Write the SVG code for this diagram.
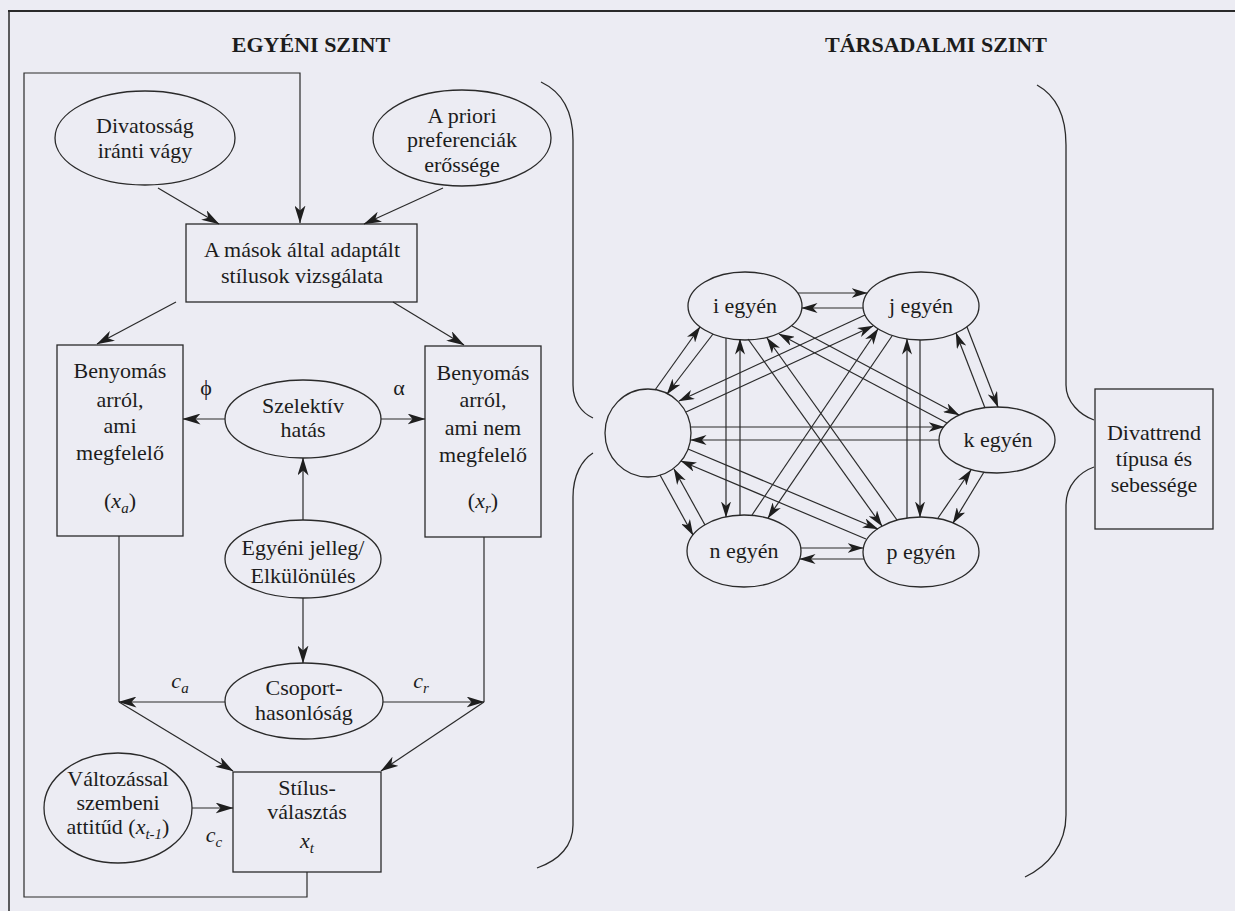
<svg xmlns="http://www.w3.org/2000/svg" width="1235" height="911" viewBox="0 0 1235 911">
<defs>
<style>
.bg{fill:#ececf3}
.sh{fill:none;stroke:#2a2a2a;stroke-width:1.3}
.ln{fill:none;stroke:#2a2a2a;stroke-width:1.2}
.big{marker-end:url(#ah)}
.sm{marker-end:url(#as)}
text{font-family:"Liberation Serif","Times New Roman",serif;font-size:22px;fill:#1c1c1c;text-anchor:middle}
.ti{font-weight:bold}
.it{font-style:italic}
</style>
<marker id="ah" viewBox="0 0 18 11" refX="17.5" refY="5.5" markerWidth="18" markerHeight="11" orient="auto" markerUnits="userSpaceOnUse"><path d="M0,0 L18,5.5 L0,11 L5,5.5 z" fill="#1e1e1e"/></marker>
<marker id="as" viewBox="0 0 16 10" refX="15.5" refY="5" markerWidth="16" markerHeight="10" orient="auto" markerUnits="userSpaceOnUse"><path d="M0,0 L16,5 L0,10 L4.5,5 z" fill="#1e1e1e"/></marker>
</defs>
<rect class="bg" x="0" y="0" width="1235" height="911"/>
<g id="frame">
<line x1="8" y1="11" x2="1235" y2="11" stroke="#2a2a2a" stroke-width="2"/>
<line x1="9" y1="11" x2="9" y2="911" stroke="#2a2a2a" stroke-width="1.5"/>
</g>
<g id="titles">
<text class="ti" x="311" y="52">EGYÉNI SZINT</text>
<text class="ti" x="936" y="52">TÁRSADALMI SZINT</text>
</g>
<g id="braces">
<path class="sh" d="M541,82 C562,92 573,112 573,140 L573,385 C573,402 582,413 593,418 M593,453 C582,460 573,475 573,497 L573,825 C573,845 560,860 537,868"/>
<path class="sh" d="M1037,85 C1055,95 1066,115 1066,145 L1066,385 C1066,402 1080,415 1094,420 M1094,467 C1080,472 1066,485 1066,505 L1066,815 C1066,845 1048,866 1025,877"/>
</g>
<g id="n-divatossag"><ellipse class="sh" cx="145" cy="138" rx="90" ry="47"/><text x="145" y="133">Divatosság</text><text x="145" y="158">iránti vágy</text></g>
<g id="n-apriori"><ellipse class="sh" cx="462" cy="138" rx="89" ry="48"/><text x="462" y="123">A priori</text><text x="462" y="147">preferenciák</text><text x="462" y="172">erőssége</text></g>
<g id="n-masok"><rect class="sh" x="186" y="224" width="231" height="78"/><text x="302" y="257">A mások által adaptált</text><text x="302" y="283">stílusok vizsgálata</text></g>
<g id="n-megfelelo"><rect class="sh" x="57" y="345" width="126" height="191"/><text x="120" y="378">Benyomás</text><text x="120" y="407">arról,</text><text x="120" y="433">ami</text><text x="120" y="460">megfelelő</text><text x="120" y="508">(<tspan class="it">x</tspan><tspan class="it" font-size="15" dy="5">a</tspan><tspan dy="-5">)</tspan></text></g>
<g id="n-nemmegfelelo"><rect class="sh" x="425" y="346" width="116" height="191"/><text x="483" y="380">Benyomás</text><text x="483" y="407">arról,</text><text x="483" y="435">ami nem</text><text x="483" y="462">megfelelő</text><text x="483" y="508">(<tspan class="it">x</tspan><tspan class="it" font-size="15" dy="5">r</tspan><tspan dy="-5">)</tspan></text></g>
<g id="n-szelektiv"><ellipse class="sh" cx="303" cy="419" rx="78" ry="39"/><text x="303" y="413">Szelektív</text><text x="303" y="437">hatás</text></g>
<g id="n-egyeni"><ellipse class="sh" cx="303" cy="559" rx="78" ry="39"/><text x="303" y="555">Egyéni jelleg/</text><text x="303" y="583">Elkülönülés</text></g>
<g id="n-csoport"><ellipse class="sh" cx="304" cy="701" rx="79" ry="38"/><text x="304" y="695">Csoport-</text><text x="304" y="720">hasonlóság</text></g>
<g id="n-valtozas"><ellipse class="sh" cx="118" cy="808" rx="74" ry="55"/><text x="118" y="786">Változással</text><text x="118" y="810">szembeni</text><text x="118" y="834">attitűd (<tspan class="it">x</tspan><tspan class="it" font-size="15" dy="5">t-1</tspan><tspan dy="-5">)</tspan></text></g>
<g id="n-stilus"><rect class="sh" x="233" y="772" width="148" height="100"/><text x="307" y="795">Stílus-</text><text x="307" y="819">választás</text><text x="307" y="848"><tspan class="it">x</tspan><tspan class="it" font-size="15" dy="5">t</tspan></text></g>
<g id="labels">
<text x="206" y="395">ϕ</text>
<text x="399" y="395">α</text>
<text x="180" y="688"><tspan class="it">c</tspan><tspan class="it" font-size="15" dy="5">a</tspan></text>
<text x="421" y="688"><tspan class="it">c</tspan><tspan class="it" font-size="15" dy="5">r</tspan></text>
<text x="214" y="842"><tspan class="it">c</tspan><tspan class="it" font-size="15" dy="5">c</tspan></text>
</g>
<g id="n-i"><ellipse class="sh" cx="745" cy="306" rx="57" ry="34"/><text x="745" y="313">i egyén</text></g>
<g id="n-j"><ellipse class="sh" cx="921" cy="306" rx="58" ry="34"/><text x="921" y="313">j egyén</text></g>
<g id="n-l"><ellipse class="sh" cx="648" cy="433" rx="43" ry="44"/></g>
<g id="n-k"><ellipse class="sh" cx="997" cy="440" rx="58" ry="33"/><text x="998" y="447">k egyén</text></g>
<g id="n-n"><ellipse class="sh" cx="744" cy="551" rx="57" ry="36"/><text x="744" y="558">n egyén</text></g>
<g id="n-p"><ellipse class="sh" cx="921" cy="552" rx="58" ry="35"/><text x="921" y="559">p egyén</text></g>
<g id="n-divattrend"><rect class="sh" x="1095" y="389" width="118" height="140"/><text x="1154" y="440">Divattrend</text><text x="1154" y="466">típusa és</text><text x="1154" y="492">sebessége</text></g>
<g id="connectors">
<path class="ln big" d="M307,872 V897 H24 V73 H300 V223"/>
<path class="ln big" d="M158,188 L219,224"/>
<path class="ln big" d="M443,188 L364,224"/>
<path class="ln big" d="M176,302 L97,344"/>
<path class="ln big" d="M393,302 L464,345"/>
<path class="ln big" d="M225,419 L183,419"/>
<path class="ln big" d="M381,419 L425,419"/>
<path class="ln big" d="M303,520 L303,458"/>
<path class="ln big" d="M303,598 L303,663"/>
<path class="ln" d="M119,536 V702"/>
<path class="ln" d="M484,537 V702"/>
<path class="ln big" d="M225,702 L119,702"/>
<path class="ln big" d="M383,702 L484,702"/>
<path class="ln big" d="M119,702 L233,771"/>
<path class="ln big" d="M484,702 L381,771"/>
<path class="ln big" d="M192,808 L233,808"/>
<path class="ln sm" d="M798,293 L867,293"/>
<path class="ln sm" d="M863,308 L802,308"/>
<path class="ln sm" d="M801,548 L863,548"/>
<path class="ln sm" d="M864,559 L800,559"/>
<path class="ln sm" d="M726,338 L726,517"/>
<path class="ln sm" d="M740,516 L740,339"/>
<path class="ln sm" d="M920,340 L920,517"/>
<path class="ln sm" d="M907,518 L907,339"/>
<path class="ln sm" d="M691,427 L944,427"/>
<path class="ln sm" d="M939,440 L691,440"/>
<path class="ln sm" d="M713,334 L667,394"/>
<path class="ln sm" d="M655,390 L700,327"/>
<path class="ln sm" d="M865,315 L679,401"/>
<path class="ln sm" d="M686,412 L873,326"/>
<path class="ln sm" d="M660,475 L693,535"/>
<path class="ln sm" d="M705,525 L674,469"/>
<path class="ln sm" d="M748,339 L882,526"/>
<path class="ln sm" d="M897,520 L767,338"/>
<path class="ln sm" d="M792,326 L959,415"/>
<path class="ln sm" d="M947,423 L779,334"/>
<path class="ln sm" d="M967,327 L998,407"/>
<path class="ln sm" d="M985,408 L956,333"/>
<path class="ln sm" d="M984,472 L953,523"/>
<path class="ln sm" d="M938,518 L971,470"/>
<path class="ln sm" d="M892,336 L768,518"/>
<path class="ln sm" d="M752,515 L878,329"/>
<path class="ln sm" d="M688,449 L878,529"/>
<path class="ln sm" d="M866,539 L681,461"/>
</g>
</svg>
